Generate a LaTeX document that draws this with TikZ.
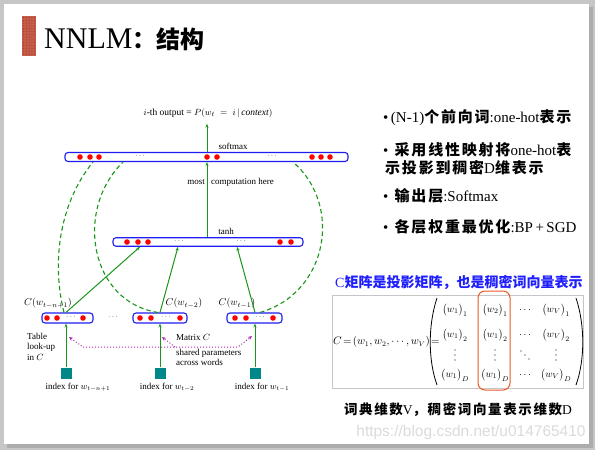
\documentclass[tikz,border=0pt]{standalone}
\usepackage{fontspec}
\setmainfont{Liberation Serif}
\newfontfamily\cjk{Noto Sans CJK SC}[LetterSpace=12]
\newfontfamily\cjkt{Noto Sans CJK SC}
\newfontfamily\wmfont{Liberation Sans}
\usetikzlibrary{arrows.meta,calc}
\newcommand{\zh}[1]{{\cjk\bfseries #1}}
\newcommand{\zt}[1]{{\cjkt\bfseries #1}}
\newcommand{\ent}[2]{$\big(w_{#1}\big)_{#2}$}
\definecolor{dgreen}{RGB}{25,150,25}
\definecolor{barblue}{RGB}{30,30,240}
\definecolor{sqteal}{RGB}{0,135,135}
\definecolor{purp}{RGB}{175,40,175}
\definecolor{titlered}{RGB}{200,90,72}
\definecolor{ored}{RGB}{235,90,40}
\definecolor{cblue}{RGB}{30,30,255}
\begin{document}
\begin{tikzpicture}[x=1pt,y=-1pt,
  bar/.style={draw=barblue, line width=1.1pt, rounded corners=3pt, fill=white, inner sep=0pt},
  sqbox/.style={fill=sqteal, minimum size=11pt, inner sep=0pt},
  garrow/.style={draw=dgreen, line width=1pt, -{Stealth[length=4pt,width=3pt]}},
  gdash/.style={draw=dgreen, line width=1.1pt, dash pattern=on 4.5pt off 3pt},
  pdot/.style={draw=purp, line width=1pt, dotted},
  lbl/.style={font=\fontsize{9}{10.5}\selectfont, inner sep=0pt},
  ell/.style={font=\fontsize{7}{7}\selectfont, inner sep=0pt},
  txt/.style={anchor=west, inner sep=0pt, font=\fontsize{15}{15}\selectfont},
  ment/.style={inner sep=0pt, font=\fontsize{10}{10}\selectfont}]
\useasboundingbox (0,0) rectangle (595,450);
% slide frame
\fill[gray!45] (0,0) rectangle (595,450);
\fill[gray!65] (7,7) rectangle (593,448);
\fill[white] (4,4) rectangle (589,444);
% title
\fill[titlered] (22,16) rectangle (36,56);
\foreach \i in {0,...,4}{\foreach \j in {0,...,13}{\fill[titlered!70!black] (23.5+\i*2.8,17.5+\j*2.8) circle (0.55);}}
\node[anchor=base west, inner sep=0pt] (title) at (44,48) {\fontsize{30}{30}\selectfont NNLM{\cjkt\bfseries\fontsize{24}{24}\selectfont ：结构}};

% coordinates (x positions)
\coordinate (xo) at (207,0);
\coordinate (x66) at (66,0);
\coordinate (x140) at (140,0);
\coordinate (x160) at (160,0);
\coordinate (x178) at (178,0);
\coordinate (x255) at (255,0);
\coordinate (x237) at (237,0);
\coordinate (x64) at (64,0);
\coordinate (x93) at (93,0);
\coordinate (x158) at (158,0);
\coordinate (x123) at (123,0);
\coordinate (x260) at (260,0);
\coordinate (x293) at (293,0);

% bars
\node[bar, minimum width=283pt, minimum height=9pt] (soft) at (206.5,157) {};
\node[bar, minimum width=190pt, minimum height=8.5pt] (tanh) at (208,242) {};
\node[bar, minimum width=51pt, minimum height=10pt] (b1) at (67.5,318) {};
\node[bar, minimum width=54pt, minimum height=10pt] (b2) at (160,318) {};
\node[bar, minimum width=55pt, minimum height=10pt] (b3) at (254.5,318) {};

% dots
\foreach \x in {80,90,99,207,217,312,321,330} \fill[red] (\x,157) circle (2.8);
\foreach \x in {127,138,148,280,291} \fill[red] (\x,242) circle (2.8);
\foreach \x in {47,57,83,140,151,180,235,246,273} \fill[red] (\x,318) circle (2.8);
\node[ell] (e1) at (140,156) {$\cdots$};
\node[ell] (e2) at (272,156) {$\cdots$};
\node[ell] (e3) at (179,241) {$\cdots$};
\node[ell] (e4) at (241,241) {$\cdots$};
\node[ell] (e5) at (71,317) {$\cdots$};
\node[ell] (e6) at (166,317) {$\cdots$};
\node[ell] (e7) at (260,317) {$\cdots$};
\node[ell] (e8) at (113,317) {$\cdots$};

% labels
\node[lbl, font=\fontsize{9.5}{10.5}\selectfont] (outlbl) at (208,113) {$i$-th output = $P(w_t\;=\;i\,|\,\mathit{context})$};
\node[lbl] (smx) at (233,146) {softmax};
\node[lbl] (tlbl) at (226,231) {tanh};
\node[lbl, anchor=east] (mch1) at (205,182) {most};
\node[lbl, anchor=west] (mch2) at (211,182) {computation here};

\draw[garrow] (soft.north -| xo) -- ($(outlbl.south -| xo)+(0,6)$);
\draw[garrow] (tanh.north -| xo) -- (soft.south -| xo);

% word feature labels
\node[lbl, font=\fontsize{10}{10}\selectfont] (cl1) at (48,303) {$C(w_{t-n+1})$};
\node[lbl, font=\fontsize{10}{10}\selectfont] (cl2) at (184,303) {$C(w_{t-2})$};
\node[lbl, font=\fontsize{10}{10}\selectfont] (cl3) at (237,303) {$C(w_{t-1})$};

% green arrows to tanh
\draw[garrow] (b1.north -| x66) -- (tanh.south -| x140);
\draw[garrow] (b2.north -| x160) -- (tanh.south -| x178);
\draw[garrow] (b3.north -| x255) -- (tanh.south -| x237);

% dashed direct connections
\draw[gdash] (b1.north -| x64) .. controls (52,265) and (58,205) .. (soft.south -| x93);
\draw[gdash] (b2.north -| x158) .. controls (90,302) and (74,210) .. (soft.south -| x123);
\draw[gdash] (b3.north -| x260) .. controls (328,293) and (343,205) .. (soft.south -| x293);

% index squares
\node[sqbox] (s1) at (66,373) {};
\node[sqbox] (s2) at (160,373) {};
\node[sqbox] (s3) at (255,373) {};
\draw[garrow] (s1) -- (b1.south -| s1);
\draw[garrow] (s2) -- (b2.south -| s2);
\draw[garrow] (s3) -- (b3.south -| s3);
\node[lbl] (i1) at (78,387) {index for $w_{t-n+1}$};
\node[lbl] (i2) at (167,387) {index for $w_{t-2}$};
\node[lbl] (i3) at (262,387) {index for $w_{t-1}$};

\node[lbl, align=left, anchor=north west] (tbl) at (27,333) {Table\\look{-}up\\in $C$};
\node[lbl, anchor=west] (mc) at (176,337) {Matrix $C$};
\node[lbl, align=left, anchor=north west] (sp) at (176,349) {shared parameters\\across words};

% shared parameters (purple)
\coordinate (pt1) at (69,337);
\coordinate (pl1) at (83,347);
\coordinate (pl2) at (238,347);
\coordinate (pt3) at (252,336);
\coordinate (pm) at (175,347);
\coordinate (pt2) at (162,337);
\draw[pdot, {Stealth[length=4pt,width=3.5pt]}-{Stealth[length=4pt,width=3.5pt]}] (pt1) -- (pl1) -- (pl2) -- (pt3);
\draw[pdot, -{Stealth[length=4pt,width=3.5pt]}] (pm) -- (pt2);

% right: bullets
\node[txt] (bl1) at (383,118) {•\,(N-1)\zh{个前向词}:one-hot\zh{表示}};
\node[txt] (bl2) at (383,150) {•\, \zh{采用线性映射将}one-hot\zh{表}};
\node[txt] (bl2b) at (385,168) {\zh{示投影到稠密}D\zh{维表示}};
\node[txt] (bl3) at (383,196) {•\, \zh{输出层}:Softmax};
\node[txt] (bl4) at (383,227) {•\, \zh{各层权重最优化}:BP\,+\,SGD};

% blue line
\node[anchor=west, inner sep=0pt, text=cblue, font=\fontsize{14}{14}\selectfont] (cb) at (335,282) {C\zt{矩阵是投影矩阵，也是稠密词向量表示}};

% formula box
\node[draw=gray!45, line width=0.8pt, minimum width=251pt, minimum height=93pt, inner sep=0pt] (fbox) at (457.5,341.5) {};
\node[anchor=west, inner sep=0pt, font=\fontsize{10.5}{10.5}\selectfont] (cf) at (333,342) {$C\!=\!\big(w_1,w_2,\cdots,w_V\big)\!=$};
\draw[line width=0.8pt] (437,298) .. controls (428,325) and (428,360) .. (437,385);
\draw[line width=0.8pt] (576,298) .. controls (585,325) and (585,360) .. (576,385);
\node[ment] (m11) at (455,310) {\ent{1}{1}};
\node[ment] (m12) at (495,310) {\ent{2}{1}};
\node[ment] (m13) at (525,310) {$\cdots$};
\node[ment] (m14) at (556,310) {\ent{V}{1}};
\node[ment] (m21) at (455,335) {\ent{1}{2}};
\node[ment] (m22) at (495,335) {\ent{1}{2}};
\node[ment] (m23) at (525,335) {$\cdots$};
\node[ment] (m24) at (556,335) {\ent{V}{2}};
% vertical and diagonal dots of the matrix
\foreach \x in {455,495,556}{\foreach \y in {350,355,360} \fill (\x,\y) circle (0.6);}
\foreach \d in {-4,0,4} \fill (525+\d,355+\d) circle (0.6);
\node[ment] (m41) at (455,375) {\ent{1}{D}};
\node[ment] (m42) at (495,375) {\ent{1}{D}};
\node[ment] (m43) at (525,375) {$\cdots$};
\node[ment] (m44) at (556,375) {\ent{V}{D}};
\node[draw=ored, line width=1pt, rounded corners=7pt, minimum width=32pt, minimum height=99pt, inner sep=0pt] (hl) at (494,340.5) {};

% caption and watermark
\node[inner sep=0pt, font=\fontsize{13.5}{13.5}\selectfont] (cap) at (458,410) {\zh{词典维数}V\zh{，稠密词向量表示维数}D};
\node[inner sep=0pt, text=gray!28, font=\wmfont\fontsize{15.5}{15.5}\selectfont] (wm) at (471,432) {https://blog.csdn.net/u014765410};
\end{tikzpicture}
\end{document}
